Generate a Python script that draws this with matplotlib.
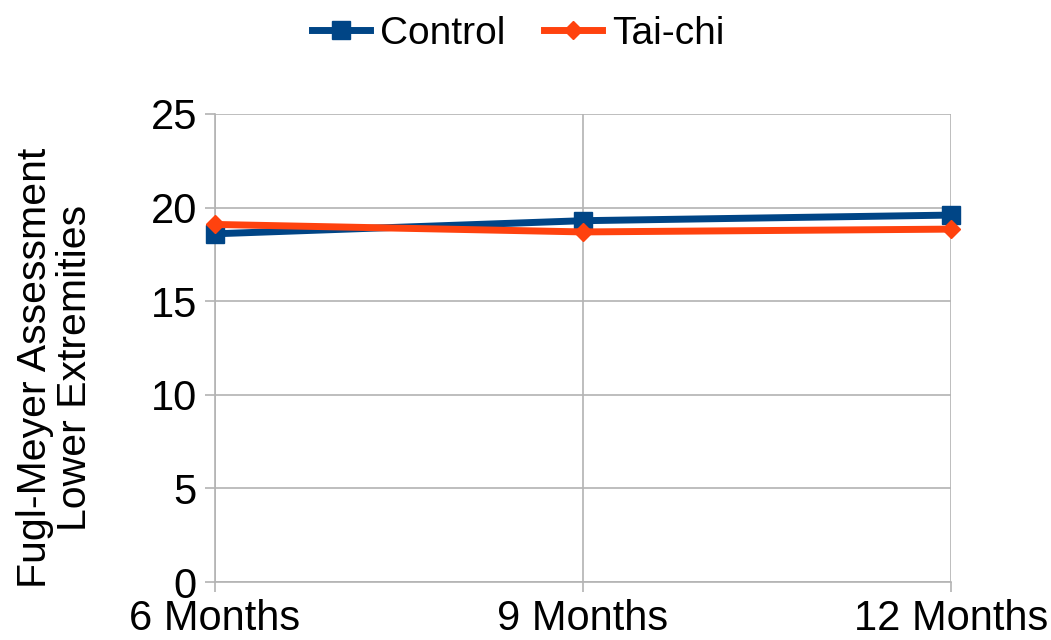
import matplotlib
matplotlib.use("Agg")
import matplotlib.pyplot as plt

categories = ["6 Months", "9 Months", "12 Months"]
control = [18.6, 19.3, 19.6]
taichi = [19.1, 18.7, 18.85]
yticks = [0, 5, 10, 15, 20, 25]

plt.rcParams['font.family'] = ['Liberation Sans', 'DejaVu Sans']

fig = plt.figure(figsize=(10.51, 6.40), dpi=100)
ax = fig.add_axes([0.2046, 0.0906, 0.7003, 0.7313])

x = list(range(len(categories)))
ax.plot(x, control, color="#004586", lw=5, marker="s", ms=13, label="Control", zorder=3, clip_on=False)
ax.plot(x, taichi, color="#ff420e", lw=5, marker="D", ms=9, label="Tai-chi", zorder=4, clip_on=False)

ax.set_xlim(0, 2)
ax.set_ylim(0, 25)
ax.set_yticks(yticks)
ax.set_xticks(x)
ax.set_xticklabels(categories)
ax.grid(True, color="#b3b3b3", lw=1.2)
ax.set_axisbelow(True)
for s in ["top", "right"]:
    ax.spines[s].set_visible(False)
for s in ["left", "bottom"]:
    ax.spines[s].set_color("#b3b3b3")
    ax.spines[s].set_linewidth(1.2)
ax.tick_params(axis="both", colors="#b3b3b3", length=7, width=1.2, labelcolor="black", labelsize=30)
ax.tick_params(axis="y", pad=6)
ax.tick_params(axis="x", pad=5.5)
ax.set_ylabel("Fugl-Meyer Assessment\nLower Extremities", fontsize=29.5, linespacing=1.08)
ax.yaxis.set_label_coords(-0.164, 0.457)

fig.legend(loc="upper center", bbox_to_anchor=(0.493, 1.03), ncol=2, frameon=False, fontsize=28,
           handlelength=1.5, columnspacing=1.0, handletextpad=0.25)

fig.savefig("out.png", dpi=100)
